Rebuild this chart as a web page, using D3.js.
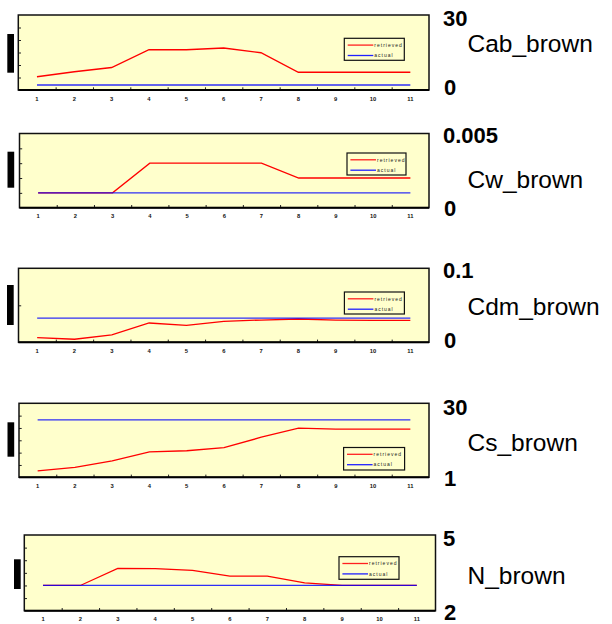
<!DOCTYPE html>
<html>
<head>
<meta charset="utf-8">
<script src="https://cdn.jsdelivr.net/npm/d3@7"></script>
<style>
html,body{margin:0;padding:0;background:#fff;}
svg{display:block;}
</style>
</head>
<body>
<svg id="chart" width="612" height="624"></svg>
<script>
// ---------- data ----------
const categories = [1, 2, 3, 4, 5, 6, 7, 8, 9, 10, 11];
const panelNames = ["Cab_brown", "Cw_brown", "Cdm_brown", "Cs_brown", "N_brown"];
const topLabels = ["30", "0.005", "0.1", "30", "5"];
const bottomLabels = ["0", "0", "0", "1", "2"];
const yDomains = [[0, 30], [0, 0.005], [0, 0.1], [1, 30], [2, 5]];
const yDivisions = [6, 5, 2, 6, 6];
const legendLabels = ["retrieved", "actual"];

const cabRetrieved = [5.3, 7.3, 9.0, 16.1, 16.1, 16.8, 14.9, 7.1, 7.1, 7.1, 7.1];
const cabActual = [2, 2, 2, 2, 2, 2, 2, 2, 2, 2, 2];
const cwRetrieved = [0.001, 0.001, 0.001, 0.003, 0.003, 0.003, 0.003, 0.002, 0.002, 0.002, 0.002];
const cwActual = [0.001, 0.001, 0.001, 0.001, 0.001, 0.001, 0.001, 0.001, 0.001, 0.001, 0.001];
const cdmRetrieved = [0.0062, 0.0041, 0.0099, 0.0261, 0.023, 0.0284, 0.0301, 0.0315, 0.0301, 0.0297, 0.0297];
const cdmActual = [0.0328, 0.0328, 0.0328, 0.0328, 0.0328, 0.0328, 0.0328, 0.0328, 0.0328, 0.0328, 0.0328];
const csRetrieved = [3.5, 4.9, 7.4, 11.0, 11.4, 12.6, 16.7, 20.3, 19.9, 19.9, 19.9];
const csActual = [23.5, 23.5, 23.5, 23.5, 23.5, 23.5, 23.5, 23.5, 23.5, 23.5, 23.5];
const nRetrieved = [3.0, 3.0, 3.68, 3.67, 3.6, 3.37, 3.37, 3.1, 3.0, 3.0, 3.0];
const nActual = [3.0, 3.0, 3.0, 3.0, 3.0, 3.0, 3.0, 3.0, 3.0, 3.0, 3.0];

const retrievedSeries = [cabRetrieved, cwRetrieved, cdmRetrieved, csRetrieved, nRetrieved];
const actualSeries = [cabActual, cwActual, cdmActual, csActual, nActual];

// ---------- layout ----------
const boxes = [
  {x0: 18.3, x1: 429, y0: 15, y1: 90},
  {x0: 19.5, x1: 429, y0: 133.5, y1: 207.7},
  {x0: 18.5, x1: 429, y0: 268.3, y1: 342.3},
  {x0: 19, x1: 429, y0: 403.3, y1: 477.3},
  {x0: 24.3, x1: 435.5, y0: 535, y1: 610.7}
];
const legends = [
  {x: 344.3, y: 38.3, w: 60, h: 22},
  {x: 347, y: 153, w: 59, h: 22},
  {x: 344.4, y: 292, w: 60, h: 22},
  {x: 343.6, y: 447.5, w: 61, h: 22.5},
  {x: 339, y: 556.7, w: 60, h: 22.6}
];
const bars = [
  {x: 7.3, y: 34, w: 6.7, h: 38.7},
  {x: 7.5, y: 151.7, w: 6.7, h: 36},
  {x: 7, y: 285, w: 6.7, h: 40},
  {x: 7.5, y: 422.3, w: 6.7, h: 34.4},
  {x: 14, y: 559.3, w: 6.7, h: 29.7}
];
const sideText = [
  {topY: 26, nameY: 52, botY: 95},
  {topY: 143, nameY: 188, botY: 216},
  {topY: 278, nameY: 315, botY: 348},
  {topY: 414.5, nameY: 450.5, botY: 486},
  {topY: 546, nameY: 584, botY: 619.5}
];

const svg = d3.select("#chart");
const FONT = "'Liberation Sans', Arial, Helvetica, sans-serif";

panelNames.forEach((name, i) => {
  const b = boxes[i];
  const g = svg.append("g");

  const x = d3.scaleBand().domain(categories).range([b.x0, b.x1]).padding(0);
  const y = d3.scaleLinear().domain(yDomains[i]).range([b.y1, b.y0]);

  // background
  g.append("rect")
    .attr("x", b.x0).attr("y", b.y0)
    .attr("width", b.x1 - b.x0).attr("height", b.y1 - b.y0)
    .attr("fill", "#ffffcc");

  // y ticks (inward)
  const [lo, hi] = yDomains[i];
  const yTickVals = d3.range(1, yDivisions[i]).map(k => lo + k * (hi - lo) / yDivisions[i]);
  const yAxis = d3.axisRight(y).tickValues(yTickVals).tickSize(2.7).tickFormat("");
  const ya = g.append("g").attr("transform", `translate(${b.x0},0)`).call(yAxis);
  ya.select(".domain").remove();
  ya.selectAll("line").attr("stroke", "#222").attr("stroke-width", 1);

  // x ticks at band boundaries (inward)
  const xb = d3.scaleLinear().domain([0, categories.length]).range([b.x0, b.x1]);
  const xAxisTicks = d3.axisTop(xb).tickValues(d3.range(1, categories.length)).tickSize(2.7).tickFormat("");
  const xa = g.append("g").attr("transform", `translate(0,${b.y1})`).call(xAxisTicks);
  xa.select(".domain").remove();
  xa.selectAll("line").attr("stroke", "#222").attr("stroke-width", 1);

  // x tick labels
  const xLabels = d3.axisBottom(x).tickSize(0).tickPadding(0);
  const xl = g.append("g").attr("transform", `translate(0,${b.y1 + 8.5})`).call(xLabels);
  xl.select(".domain").remove();
  xl.selectAll("text")
    .attr("font-family", FONT).attr("font-size", 5.8).attr("font-weight", "bold")
    .attr("fill", "#111").attr("dy", "0.35em");

  // lines
  const line = d3.line().x((d, k) => x(categories[k]) + x.bandwidth() / 2).y(d => y(d));
  g.append("path").datum(retrievedSeries[i])
    .attr("d", line).attr("fill", "none").attr("stroke", "#ff0000").attr("stroke-width", 1.3);
  g.append("path").datum(actualSeries[i])
    .attr("d", line).attr("fill", "none").attr("stroke", "#0000ff").attr("stroke-width", 1.3)
    .attr("stroke-opacity", 0.82);

  // border
  g.append("rect")
    .attr("x", b.x0).attr("y", b.y0)
    .attr("width", b.x1 - b.x0).attr("height", b.y1 - b.y0)
    .attr("fill", "none").attr("stroke", "#111").attr("stroke-width", 1.5);
  g.append("line")
    .attr("x1", b.x0).attr("x2", b.x1).attr("y1", b.y1).attr("y2", b.y1)
    .attr("stroke", "#000").attr("stroke-width", 2);

  // legend
  const L = legends[i];
  const lg = g.append("g");
  lg.append("rect").attr("x", L.x).attr("y", L.y).attr("width", L.w).attr("height", L.h)
    .attr("fill", "#ffffcc").attr("stroke", "#111").attr("stroke-width", 1.2);
  const legColors = ["#ff2020", "#2020ff"];
  legendLabels.forEach((lab, k) => {
    const ry = L.y + (k === 0 ? 6.8 : 17.2);
    lg.append("line").attr("x1", L.x + 3.4).attr("x2", L.x + 29).attr("y1", ry).attr("y2", ry)
      .attr("stroke", legColors[k]).attr("stroke-width", 1.3);
    lg.append("text").attr("x", L.x + 30).attr("y", ry).attr("dy", "0.35em")
      .attr("font-family", FONT).attr("font-size", 5).attr("letter-spacing", 1)
      .attr("fill", "#222").text(lab);
  });

  // black bar (axis title placeholder)
  const B = bars[i];
  g.append("rect").attr("x", B.x).attr("y", B.y).attr("width", B.w).attr("height", B.h).attr("fill", "#000");

  // side labels
  const S = sideText[i];
  g.append("text").attr("x", 443).attr("y", S.topY)
    .attr("font-family", FONT).attr("font-weight", "bold").attr("font-size", 22).attr("fill", "#000")
    .text(topLabels[i]);
  g.append("text").attr("x", 467.5).attr("y", S.nameY)
    .attr("font-family", FONT).attr("font-size", 24.5).attr("fill", "#000")
    .text(name);
  g.append("text").attr("x", 444).attr("y", S.botY)
    .attr("font-family", FONT).attr("font-weight", "bold").attr("font-size", 22).attr("fill", "#000")
    .text(bottomLabels[i]);
});
</script>
</body>
</html>
